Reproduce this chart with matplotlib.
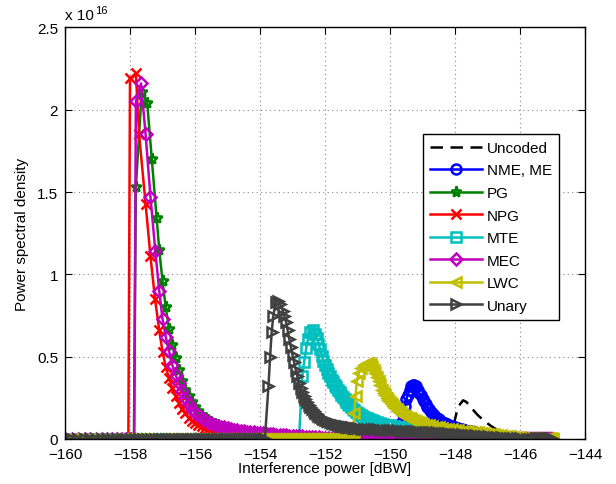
import numpy as np
import matplotlib
matplotlib.use("Agg")
import matplotlib.pyplot as plt

plt.rcParams['font.family'] = ['Liberation Sans', 'DejaVu Sans']

# ---------------- data (y in units of 1e16) ----------------
# each curve: explicit points around the peak + tails read every FINE_STEP / TAIL_STEP dB
FINE_STEP = 0.05
TAIL_STEP = 0.1

uncoded_x = [-148.15, -148.05, -147.95, -147.85, -147.75, -147.65, -147.5, -147.3, -147.1, -146.9, -146.7, -146.4, -146.0, -145.5]
uncoded_y = [0, 0.08, 0.16, 0.21, 0.235, 0.225, 0.19, 0.145, 0.11, 0.08, 0.055, 0.03, 0.012, 0.003]

nme_x = [-149.75, -149.7, -149.65, -149.6, -149.55, -149.5, -149.45, -149.4, -149.35, -149.3, -149.25, -149.2, -149.15, -149.1]
nme_y = [0, 0.05, 0.1, 0.15, 0.2, 0.24, 0.27, 0.3, 0.32, 0.33, 0.33, 0.32, 0.3, 0.28]
nme_fine_start = -149.05
nme_fine_y = [0.265, 0.245, 0.228, 0.21, 0.195, 0.18, 0.167, 0.155, 0.145, 0.135, 0.127, 0.12, 0.112, 0.105,
              0.1, 0.095, 0.09, 0.085, 0.081, 0.077, 0.073, 0.07]
nme_tail_start = -147.9
nme_tail_y = [0.065, 0.06, 0.055, 0.05, 0.046, 0.042, 0.038, 0.034, 0.03, 0.027, 0.024, 0.021, 0.018, 0.015,
              0.013, 0.011, 0.009, 0.007, 0.006, 0.004, 0.003, 0.002, 0.001]

pg_x = [-157.88, -157.82, -157.64, -157.47, -157.33, -157.18]
pg_y = [0, 1.53, 2.11, 2.04, 1.70, 1.34]
pg_tail_start = -157.1
pg_tail_y = [1.15, 0.96, 0.80, 0.67, 0.57, 0.49, 0.42, 0.355, 0.30, 0.26, 0.225, 0.195, 0.17, 0.148, 0.13, 0.115,
             0.102, 0.091, 0.082, 0.074, 0.067, 0.061, 0.056, 0.051, 0.047, 0.043, 0.04, 0.037, 0.034, 0.032,
             0.029, 0.027, 0.025, 0.023, 0.021, 0.019, 0.018, 0.016, 0.015, 0.013, 0.012, 0.011, 0.01, 0.009,
             0.008, 0.007, 0.006, 0.005, 0.004, 0.003, 0.002, 0.001, 0.001]

npg_x = [-158.05, -158.0, -157.82, -157.72, -157.52, -157.37, -157.23]
npg_y = [0, 2.19, 2.22, 1.85, 1.43, 1.11, 0.85]
npg_tail_start = -157.1
npg_tail_y = [0.66, 0.53, 0.44, 0.37, 0.31, 0.26, 0.22, 0.185, 0.155, 0.13, 0.112, 0.097, 0.086, 0.076, 0.068,
              0.061, 0.055, 0.05, 0.046, 0.042, 0.039, 0.036, 0.034, 0.031, 0.029, 0.027, 0.025, 0.023, 0.021,
              0.02, 0.018, 0.017, 0.015, 0.014, 0.013, 0.012, 0.011, 0.01, 0.009, 0.008, 0.007, 0.006, 0.005,
              0.004, 0.004, 0.003, 0.002, 0.002, 0.001, 0.001, 0.001, 0.0]

mte_x = [-152.8, -152.7, -152.64, -152.58, -152.52, -152.45, -152.38]
mte_y = [0, 0.38, 0.47, 0.55, 0.61, 0.65, 0.66]
mte_fine_start = -152.3
mte_fine_y = [0.64, 0.615, 0.58, 0.545, 0.505, 0.475, 0.45, 0.425, 0.40, 0.38, 0.36, 0.345, 0.33, 0.315, 0.30,
              0.285, 0.27, 0.255, 0.24, 0.227, 0.215, 0.205, 0.195, 0.185, 0.175, 0.167, 0.16, 0.153, 0.147,
              0.141, 0.135, 0.13, 0.125, 0.121, 0.117, 0.113, 0.11]
mte_tail_start = -150.4
mte_tail_y = [0.103, 0.097, 0.092, 0.087, 0.082, 0.078, 0.074, 0.07, 0.066, 0.063, 0.06, 0.057, 0.054, 0.051,
              0.048, 0.046, 0.044, 0.042, 0.04, 0.038, 0.036, 0.034, 0.032, 0.03, 0.028, 0.026, 0.024, 0.022,
              0.02, 0.018, 0.017, 0.015, 0.013, 0.012, 0.01, 0.009, 0.008, 0.006, 0.005, 0.004, 0.003, 0.002,
              0.001]

mec_x = [-157.87, -157.82, -157.66, -157.52, -157.37, -157.22]
mec_y = [0, 2.05, 2.16, 1.85, 1.47, 1.14]
mec_tail_start = -157.1
mec_tail_y = [0.90, 0.73, 0.62, 0.535, 0.45, 0.39, 0.34, 0.29, 0.25, 0.215, 0.185, 0.16, 0.143, 0.128, 0.115,
              0.105, 0.096, 0.088, 0.081, 0.075, 0.07, 0.065, 0.061, 0.057, 0.054, 0.051, 0.048, 0.045, 0.043,
              0.04, 0.038, 0.036, 0.034, 0.032, 0.03, 0.029, 0.027, 0.025, 0.024, 0.022, 0.021, 0.02, 0.018,
              0.017, 0.016, 0.014, 0.013, 0.012, 0.011, 0.01, 0.009, 0.008, 0.007, 0.006, 0.005, 0.004, 0.004,
              0.003, 0.002, 0.002, 0.001, 0.001, 0.001]

lwc_x = [-151.12, -151.1, -151.06, -151.02, -150.96, -150.88, -150.8, -150.72, -150.64]
lwc_y = [0, 0.16, 0.26, 0.35, 0.40, 0.43, 0.45, 0.46, 0.46]
lwc_fine_start = -150.6
lwc_fine_y = [0.455, 0.44, 0.42, 0.40, 0.375, 0.35, 0.325, 0.30, 0.282, 0.265, 0.25, 0.235, 0.222, 0.21, 0.20,
              0.19, 0.18, 0.17, 0.162, 0.155, 0.148, 0.142, 0.136, 0.13, 0.125, 0.12, 0.115, 0.111, 0.107,
              0.103, 0.099, 0.096, 0.093]
lwc_tail_start = -148.9
lwc_tail_y = [0.088, 0.083, 0.078, 0.074, 0.07, 0.066, 0.063, 0.06, 0.058, 0.056, 0.053, 0.051, 0.049, 0.047,
              0.045, 0.042, 0.04, 0.038, 0.035, 0.033, 0.03, 0.028, 0.025, 0.023, 0.021, 0.019, 0.017, 0.015,
              0.013, 0.011, 0.009, 0.008, 0.006, 0.005, 0.004, 0.003, 0.002, 0.001]

unary_x = [-153.85, -153.74, -153.69, -153.64, -153.59, -153.52, -153.45, -153.38]
unary_y = [0, 0.32, 0.50, 0.65, 0.75, 0.83, 0.84, 0.82]
unary_fine_start = -153.3
unary_fine_y = [0.78, 0.745, 0.71, 0.66, 0.61, 0.56, 0.51, 0.465, 0.42, 0.38, 0.34, 0.31, 0.285, 0.262, 0.24,
                0.222, 0.205, 0.192, 0.18, 0.169, 0.158, 0.149, 0.14, 0.133, 0.127, 0.121, 0.116, 0.111, 0.107,
                0.103, 0.099, 0.095, 0.092, 0.089, 0.086, 0.083, 0.081, 0.079, 0.077, 0.075, 0.073, 0.071,
                0.070, 0.068, 0.067, 0.066, 0.065]
unary_tail_start = -150.9
unary_tail_y = [0.063, 0.062, 0.061, 0.060, 0.059, 0.058, 0.057, 0.056, 0.055, 0.054, 0.053, 0.052, 0.051,
                0.050, 0.049, 0.048, 0.047, 0.046, 0.045, 0.044, 0.043, 0.042, 0.041, 0.040, 0.039, 0.037,
                0.036, 0.035, 0.033, 0.032, 0.030, 0.029, 0.027, 0.026, 0.024, 0.022, 0.021, 0.019, 0.018,
                0.016, 0.015, 0.013, 0.012, 0.011, 0.009, 0.008, 0.007, 0.006, 0.005, 0.004, 0.003, 0.002,
                0.002, 0.001, 0.001]

labels = ['Uncoded', 'NME, ME', 'PG', 'NPG', 'MTE', 'MEC', 'LWC', 'Unary']
x_ticks = [-160, -158, -156, -154, -152, -150, -148, -146, -144]
y_ticks = [0, 0.5, 1, 1.5, 2, 2.5]
y_tick_labels = ['0', '0.5', '1', '1.5', '2', '2.5']

# sampling grid of the curves (uniform in linear power); curves are zero outside their support
sample_power_w = np.linspace(1e-16, 10 ** -14.5, 620)
sample_grid_dbw = 10 * np.log10(sample_power_w)

series = [
    (uncoded_x, uncoded_y, [], dict(color='k', ls=(0, (5, 3)), marker=None)),
    (nme_x, nme_y, [(nme_fine_start, FINE_STEP, nme_fine_y), (nme_tail_start, TAIL_STEP, nme_tail_y)],
     dict(color=(0, 0, 1), ls='-', marker='o')),
    (pg_x, pg_y, [(pg_tail_start, TAIL_STEP, pg_tail_y)], dict(color=(0, 0.5, 0), ls='-', marker='*')),
    (npg_x, npg_y, [(npg_tail_start, TAIL_STEP, npg_tail_y)], dict(color=(1, 0, 0), ls='-', marker='x')),
    (mte_x, mte_y, [(mte_fine_start, FINE_STEP, mte_fine_y), (mte_tail_start, TAIL_STEP, mte_tail_y)],
     dict(color=(0, 0.75, 0.75), ls='-', marker='s')),
    (mec_x, mec_y, [(mec_tail_start, TAIL_STEP, mec_tail_y)], dict(color=(0.75, 0, 0.75), ls='-', marker='D')),
    (lwc_x, lwc_y, [(lwc_fine_start, FINE_STEP, lwc_fine_y), (lwc_tail_start, TAIL_STEP, lwc_tail_y)],
     dict(color=(0.75, 0.75, 0), ls='-', marker='<')),
    (unary_x, unary_y, [(unary_fine_start, FINE_STEP, unary_fine_y), (unary_tail_start, TAIL_STEP, unary_tail_y)],
     dict(color=(0.25, 0.25, 0.25), ls='-', marker='>')),
]

fig = plt.figure(figsize=(6.16, 4.85), dpi=100)
ax = fig.add_axes([65 / 616, 45 / 485, 520 / 616, 411.6 / 485])

msizes = {'o': 7.2, '*': 8, 'x': 6.8, 's': 6.8, 'D': 6.6, '<': 7.5, '>': 7.5, None: 0}
for (px, py, segs, st), lab in zip(series, labels):
    xs = list(px)
    ys = list(py)
    for s0, step, vals in segs:
        xs += list(s0 + step * np.arange(len(vals)))
        ys += list(vals)
    xs = np.asarray(xs, float)
    ys = np.asarray(ys, float)
    left = sample_grid_dbw[sample_grid_dbw < xs[0] - 1e-9]
    right = sample_grid_dbw[sample_grid_dbw > xs[-1] + 1e-9]
    fx = np.concatenate([left, xs, right])
    fy = np.concatenate([np.zeros(len(left)), ys, np.zeros(len(right))])
    m = st['marker']
    ax.plot(fx, fy, color=st['color'], linestyle=st['ls'], linewidth=1.8,
            marker=m, markersize=msizes[m], markerfacecolor='none',
            markeredgewidth=1.8, label=lab)

ax.set_xlim(-160, -144)
ax.set_ylim(0, 2.5)
ax.set_xticks(x_ticks)
ax.set_yticks(y_ticks)
ax.set_yticklabels(y_tick_labels)
ax.tick_params(direction='in', top=True, right=True, length=5, width=0.8, labelsize=11)
ax.tick_params(axis='x', pad=6)
ax.tick_params(axis='y', pad=5)
ax.grid(True, linestyle=(0, (1, 3)), color='#888888', linewidth=0.8)
for sp in ax.spines.values():
    sp.set_linewidth(1.0)

ax.set_xlabel('Interference power [dBW]', fontsize=11, labelpad=0)
ax.set_ylabel('Power spectral density', fontsize=11, labelpad=6)

t1 = ax.text(0.0, 1.012, 'x 10', transform=ax.transAxes, ha='left', va='bottom', fontsize=11)
ax.annotate('16', xy=(1, 1), xycoords=t1, xytext=(1, -1), textcoords='offset points',
            ha='left', va='center', fontsize=8)

leg = ax.legend(loc='upper left', bbox_to_anchor=(0.688, 0.741), fontsize=11,
                frameon=True, fancybox=False, edgecolor='k', framealpha=1,
                handlelength=3.4, handletextpad=0.35, borderpad=0.45,
                labelspacing=0.56, numpoints=1, borderaxespad=0)
leg.get_frame().set_linewidth(1.0)

fig.savefig('out.png', dpi=100)
